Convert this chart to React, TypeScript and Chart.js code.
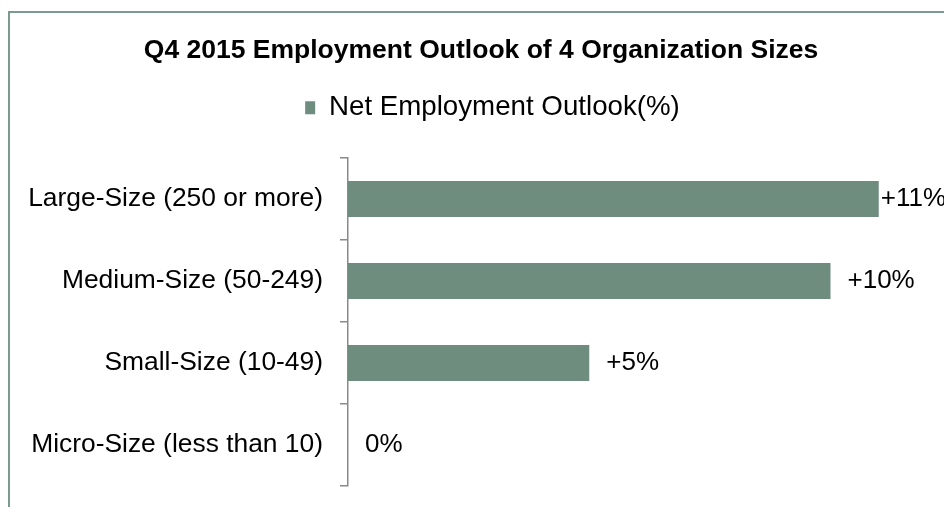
import React, { useEffect, useRef } from "react";
import { Chart, registerables } from "chart.js";

Chart.register(...registerables);

const TITLE = "Q4 2015 Employment Outlook of 4 Organization Sizes";
const SERIES_NAME = "Net Employment Outlook(%)";
const categories = [
  "Large-Size (250 or more)",
  "Medium-Size (50-249)",
  "Small-Size (10-49)",
  "Micro-Size (less than 10)",
];
const values = [11, 10, 5, 0];
const valueLabels = ["+11%", "+10%", "+5%", "0%"];

const FONT = "'Liberation Sans', Arial, Helvetica, sans-serif";
const BAR_COLOR = "#6e8d7f";
const FRAME_COLOR = "#7b9b91";
const AXIS_COLOR = "#8a8a8a";

function shiftDraw(chart: any, box: any, dx: number) {
  if (!box) return;
  const origDraw = box.draw;
  box.draw = function (...args: any[]) {
    const ctx = chart.ctx;
    ctx.save();
    ctx.translate(dx, 0);
    origDraw.apply(box, args);
    ctx.restore();
  };
}

export default function App() {
  const ref = useRef<HTMLCanvasElement | null>(null);

  useEffect(() => {
    document.body.style.margin = "0";
    document.body.style.overflow = "hidden";
    const canvas = ref.current;
    if (!canvas) return;

    const framePlugin = {
      id: "frame",
      beforeDraw(chart: any) {
        const ctx = chart.ctx;
        ctx.save();
        ctx.fillStyle = "#ffffff";
        ctx.fillRect(0, 0, chart.width, chart.height);
        ctx.strokeStyle = FRAME_COLOR;
        ctx.lineWidth = 2;
        ctx.strokeRect(9, 12, chart.width + 40, chart.height + 40);
        ctx.restore();
      },
    };

    const headerTweakPlugin = {
      id: "headerTweak",
      beforeInit(chart: any) {
        const legend = chart.legend;
        if (legend) {
          const origFit = legend.fit;
          legend.fit = function () {
            origFit.call(legend);
            this.height += 26.5;
          };
          shiftDraw(chart, legend, 29);
        }
        shiftDraw(chart, chart.titleBlock, 17.5);
      },
    };

    const valueLabelPlugin = {
      id: "valueLabels",
      afterDatasetsDraw(chart: any) {
        const ctx = chart.ctx;
        const meta = chart.getDatasetMeta(0);
        ctx.save();
        ctx.font = `26px ${FONT}`;
        ctx.fillStyle = "#000000";
        ctx.textBaseline = "middle";
        ctx.textAlign = "left";
        meta.data.forEach((bar: any, i: number) => {
          const text = valueLabels[i];
          const w = ctx.measureText(text).width;
          let x = bar.x + 17;
          if (x + w > chart.width + 5) x = bar.x + 2;
          ctx.fillText(text, x, bar.y);
        });
        ctx.restore();
      },
    };

    const chart = new Chart(canvas, {
      type: "bar",
      data: {
        labels: categories,
        datasets: [
          {
            label: SERIES_NAME,
            data: values,
            backgroundColor: BAR_COLOR,
            borderWidth: 0,
            barPercentage: 0.44,
            categoryPercentage: 1,
          },
        ],
      },
      options: {
        indexAxis: "y",
        responsive: false,
        animation: false,
        layout: { padding: { left: 0, right: 17, top: 0, bottom: 21 } },
        scales: {
          x: { display: false, min: 0, max: 12 },
          y: {
            display: true,
            offset: true,
            afterFit(scale: any) {
              scale.width = 348;
              scale.paddingTop = 0;
              scale.paddingBottom = 0;
            },
            grid: {
              display: true,
              offset: true,
              drawOnChartArea: false,
              drawTicks: true,
              tickLength: 8,
              color: AXIS_COLOR,
              lineWidth: 1.5,
            },
            border: { display: true, color: AXIS_COLOR, width: 1.5 },
            ticks: {
              color: "#000000",
              padding: 17,
              font: { family: FONT, size: 26.4 },
            },
          },
        },
        plugins: {
          title: {
            display: true,
            text: TITLE,
            color: "#000000",
            font: { family: FONT, size: 26.5, weight: "bold" },
            padding: { top: 34.5, bottom: 17.5 },
          },
          legend: {
            display: true,
            position: "top",
            labels: {
              color: "#000000",
              font: { family: FONT, size: 27.7 },
              boxWidth: 10,
              boxHeight: 13,
              padding: 10,
            },
          },
          tooltip: { enabled: false },
        },
      },
      plugins: [framePlugin, headerTweakPlugin, valueLabelPlugin],
    });

    return () => chart.destroy();
  }, []);

  return (
    <div style={{ width: 944, height: 507 }}>
      <canvas ref={ref} width={944} height={507} style={{ display: "block" }} />
    </div>
  );
}
